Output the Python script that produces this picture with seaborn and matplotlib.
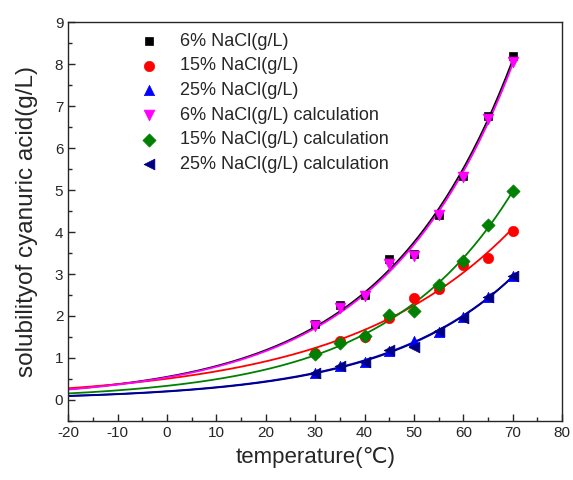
import numpy as np
import pandas as pd
import matplotlib
matplotlib.use('Agg')
import matplotlib.pyplot as plt
from matplotlib.ticker import MultipleLocator
import seaborn as sns

# temperatures (°C) of the measurements
temperature = [30, 35, 40, 45, 50, 55, 60, 65, 70]

# solubility of cyanuric acid (g/L)
nacl6 = [1.81, 2.25, 2.50, 3.36, 3.48, 4.40, 5.33, 6.76, 8.19]
nacl15 = [1.12, 1.40, 1.50, 1.95, 2.43, 2.64, 3.21, 3.38, 4.03]
nacl25 = [0.64, 0.82, 0.90, 1.17, 1.41, 1.62, 1.98, 2.45, 2.95]
nacl6_calc = [1.77, 2.20, 2.48, 3.24, 3.43, 4.40, 5.30, 6.70, 8.05]
nacl15_calc = [1.10, 1.36, 1.53, 2.02, 2.13, 2.74, 3.32, 4.17, 4.98]
nacl25_calc = [0.64, 0.82, 0.90, 1.20, 1.26, 1.65, 1.96, 2.45, 2.95]

labels = ['6% NaCl(g/L)', '15% NaCl(g/L)', '25% NaCl(g/L)',
          '6% NaCl(g/L) calculation', '15% NaCl(g/L) calculation',
          '25% NaCl(g/L) calculation']
series = [nacl6, nacl15, nacl25, nacl6_calc, nacl15_calc, nacl25_calc]
colors = ['black', 'red', 'blue', 'magenta', 'green', 'navy']
markers = ['s', 'o', '^', 'v', 'D', '<']
sizes = [36, 55, 55, 60, 45, 60]

sns.set_style('ticks')
plt.rcParams['font.family'] = ['Liberation Sans', 'DejaVu Sans']
plt.rcParams['axes.unicode_minus'] = False

fig = plt.figure(figsize=(5.73, 4.8), dpi=100)
ax = fig.add_axes([0.119, 0.123, 0.862, 0.831])

# exponential fit curves, drawn from -20 to 70 °C
t_fit = np.linspace(-20, 70, 200)
for vals, col in zip(series, colors):
    # weighting by y makes the log fit behave like a plain least squares fit
    b, a = np.polyfit(temperature, np.log(vals), 1, w=vals)
    fit = pd.DataFrame({'t': t_fit, 'y': np.exp(a + b * t_fit)})
    sns.lineplot(data=fit, x='t', y='y', color=col, lw=1.3, ax=ax, legend=False)

for vals, lab, col, m, s in zip(series, labels, colors, markers, sizes):
    df = pd.DataFrame({'t': temperature, 'y': vals})
    sns.scatterplot(data=df, x='t', y='y', color=col, marker=m, s=s,
                    edgecolor=col, linewidth=0.5, label=lab, ax=ax, zorder=3)

ax.set_xlim(-20, 80)
ax.set_ylim(-0.5, 9)
ax.xaxis.set_major_locator(MultipleLocator(10))
ax.xaxis.set_minor_locator(MultipleLocator(5))
ax.yaxis.set_major_locator(MultipleLocator(1))
ax.yaxis.set_minor_locator(MultipleLocator(0.5))
ax.tick_params(which='major', direction='in', length=5, width=1, labelsize=11,
               top=False, right=False)
ax.tick_params(which='minor', direction='in', length=3, width=1,
               top=False, right=False)
for sp in ax.spines.values():
    sp.set_linewidth(1.0)

ax.set_xlabel('temperature(\u2103)', fontsize=16, labelpad=5)
ax.set_ylabel('solubilityof cyanuric acid(g/L)', fontsize=17.5, labelpad=12)

ax.legend(loc='upper left', bbox_to_anchor=(0.105, 1.0), frameon=False,
          fontsize=13, handletextpad=0.7, labelspacing=0.42, borderaxespad=0.2)

fig.savefig('out.png', dpi=100)
